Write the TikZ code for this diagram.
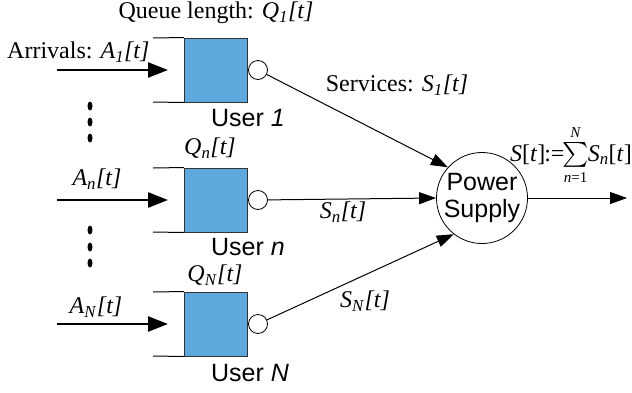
\documentclass[tikz,border=0pt]{standalone}
\usepackage{fontspec}
\usepackage{exscale}
\setmainfont{Liberation Serif}
\setsansfont{Liberation Sans}
\usetikzlibrary{arrows.meta}
\definecolor{qblue}{RGB}{93,169,221}
% italic symbol with italic subscript and time index
\newcommand{\qlab}[2]{\textit{#1}\textsubscript{\textit{#2}}\textit{[t]}}
\begin{document}
\begin{tikzpicture}[x=1pt,y=-1pt,
  queue/.style={draw=black!80, fill=qblue, line width=1pt, minimum width=63pt, minimum height=64pt, inner sep=0pt},
  server/.style={circle, draw, fill=white, line width=0.8pt, minimum size=19pt, inner sep=0pt},
  supply/.style={circle, draw, line width=0.8pt, minimum size=82pt, inner sep=0pt, align=center,
    font=\sffamily\fontsize{25}{28}\selectfont},
  lbl/.style={font=\fontsize{24}{26}\selectfont, inner sep=0pt},
  ulbl/.style={font=\sffamily\fontsize{25}{28}\selectfont, inner sep=0pt},
  arrin/.style={line width=2.6pt, -{Triangle[length=20pt,width=15pt]}},
  arrsv/.style={line width=1pt, -{Triangle[length=17pt,width=12pt]}},
  wall/.style={line width=1pt}
]
\useasboundingbox (0,0) rectangle (632,392);

% queues with their servers
\foreach \name/\yy in {1/70, n/200, N/324} {
  \node[queue] (q\name) at (216,\yy) {};
  \node[server] (s\name) at (258,\yy) {};
  \coordinate (tl\name) at (153,\yy-32);
  \coordinate (bl\name) at (153,\yy+32);
  \draw[wall] (tl\name) -- (q\name.north west);
  \draw[wall] (bl\name) -- (q\name.south west);
  \coordinate (a\name) at (57,\yy);
  \coordinate (ae\name) at (168,\yy);
  \draw[arrin] (a\name) -- (ae\name);
}

% power supply and output
\node[supply] (ps) at (482,198) {Power\\[-1pt]Supply};
\coordinate (out) at (627,198);
\draw[arrsv] (ps) -- (out);

% service connectors
\draw[arrsv] (s1) -- (ps.138);
\draw[arrsv] (sn) -- (ps.west);
\draw[arrsv] (sN) -- (ps.232);

% vertical ellipsis dots
\foreach \yy in {106,122,138,230,247,263}
  \fill (90,\yy) ellipse [x radius=2.5pt, y radius=4.5pt];

% labels
\node[lbl, anchor=west] (arr1) at (7,52) {Arrivals: \qlab{A}{1}};
\node[lbl] (ql1) at (216,13) {Queue length: \qlab{Q}{1}};
\node[ulbl] (u1) at (248,118) {User \textit{1}};
\node[lbl] (qln) at (210,148) {\qlab{Q}{n}};
\node[lbl] (arrn) at (97,179) {\qlab{A}{n}};
\node[ulbl] (un) at (248,247) {User \textit{n}};
\node[lbl] (qlN) at (215,275) {\qlab{Q}{N}};
\node[lbl] (arrN) at (96,307) {\qlab{A}{N}};
\node[ulbl] (uN) at (250,373) {User \textit{N}};
\node[lbl] (sv1) at (397,85) {Services: \qlab{S}{1}};
\node[lbl] (svn) at (343,212) {\qlab{S}{n}};
\node[lbl] (svN) at (365,301) {\qlab{S}{N}};
\node[lbl, anchor=east] (sum) at (632,155)
  {\textit{S}[\textit{t}]\kern-1pt:=\kern-2pt$\sum\limits_{\mbox{\fontsize{15}{15}\selectfont\textit{n}=1}}^{\mbox{\fontsize{15}{15}\selectfont\textit{N}}}$\kern-1pt\textit{S}\textsubscript{\textit{n}}[\textit{t}]};
\end{tikzpicture}
\end{document}
